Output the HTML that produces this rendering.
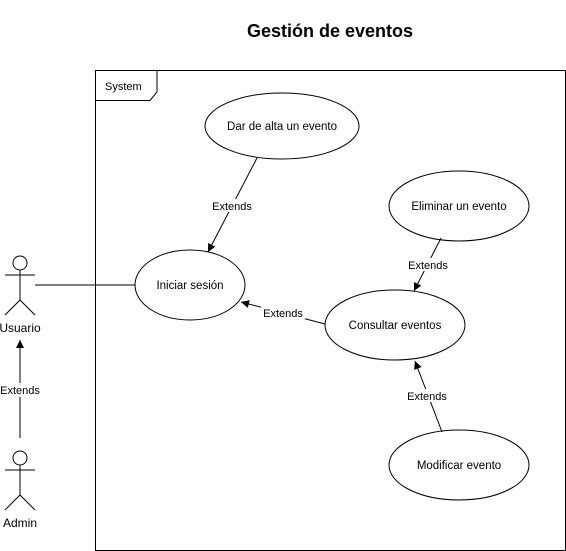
<html><body style="margin:0;background:#fff">
<svg width="566" height="551" xmlns="http://www.w3.org/2000/svg" font-family="Liberation Sans, sans-serif" font-size="11">
<defs><marker id="a" markerWidth="10" markerHeight="10" refX="9" refY="5" orient="auto" markerUnits="userSpaceOnUse"><path d="M1,1 L9,5 L1,9 Z" fill="#000"/></marker></defs>
<text x="330" y="37" font-size="18" font-weight="bold" text-anchor="middle">Gestión de eventos</text>
<rect x="95.5" y="70.5" width="470" height="480" fill="none" stroke="#000"/>
<path d="M95.5,100.5 H150 L157,92 V70.5" fill="none" stroke="#000"/>
<text x="105" y="90" font-size="11">System</text>
<g fill="#fff" stroke="#000">
<ellipse cx="282" cy="126" rx="77" ry="33"/>
<ellipse cx="190" cy="285" rx="55" ry="35"/>
<ellipse cx="459" cy="206" rx="70" ry="35"/>
<ellipse cx="395" cy="325" rx="70" ry="35"/>
<ellipse cx="459" cy="465" rx="70" ry="35"/>
</g>
<g text-anchor="middle" font-size="11.5">
<text x="282" y="130">Dar de alta un evento</text>
<text x="190" y="289">Iniciar sesión</text>
<text x="459" y="210">Eliminar un evento</text>
<text x="395" y="329">Consultar eventos</text>
<text x="459" y="469">Modificar evento</text>
</g>
<g stroke="#000" fill="none">
<line x1="35" y1="285" x2="135" y2="285"/>
<line x1="257" y1="158" x2="208" y2="252" marker-end="url(#a)"/>
<line x1="441" y1="238" x2="414" y2="291" marker-end="url(#a)"/>
<line x1="325" y1="324" x2="241" y2="302" marker-end="url(#a)"/>
<line x1="442" y1="432" x2="415" y2="361" marker-end="url(#a)"/>
<line x1="20" y1="438" x2="20" y2="340" marker-end="url(#a)"/>
<circle cx="20" cy="263" r="7"/>
<path d="M20,270 V300 M5,275 H35 M5,315 L20,300 L35,315"/>
<circle cx="20" cy="458" r="7"/>
<path d="M20,465 V495 M5,470 H35 M5,510 L20,495 L35,510"/>
</g>
<g text-anchor="middle" font-size="11">
<rect x="210" y="199" width="44" height="13" fill="#fff"/><text x="232" y="210">Extends</text>
<rect x="406" y="258" width="44" height="13" fill="#fff"/><text x="428" y="269">Extends</text>
<rect x="261" y="306" width="44" height="13" fill="#fff"/><text x="283" y="317">Extends</text>
<rect x="405" y="389" width="44" height="13" fill="#fff"/><text x="427" y="400">Extends</text>
<rect x="0" y="383" width="42" height="14" fill="#fff"/><text x="20" y="394">Extends</text>
<text x="20" y="332" font-size="12">Usuario</text>
<text x="20" y="527" font-size="12">Admin</text>
</g>
</svg>
</body></html>
